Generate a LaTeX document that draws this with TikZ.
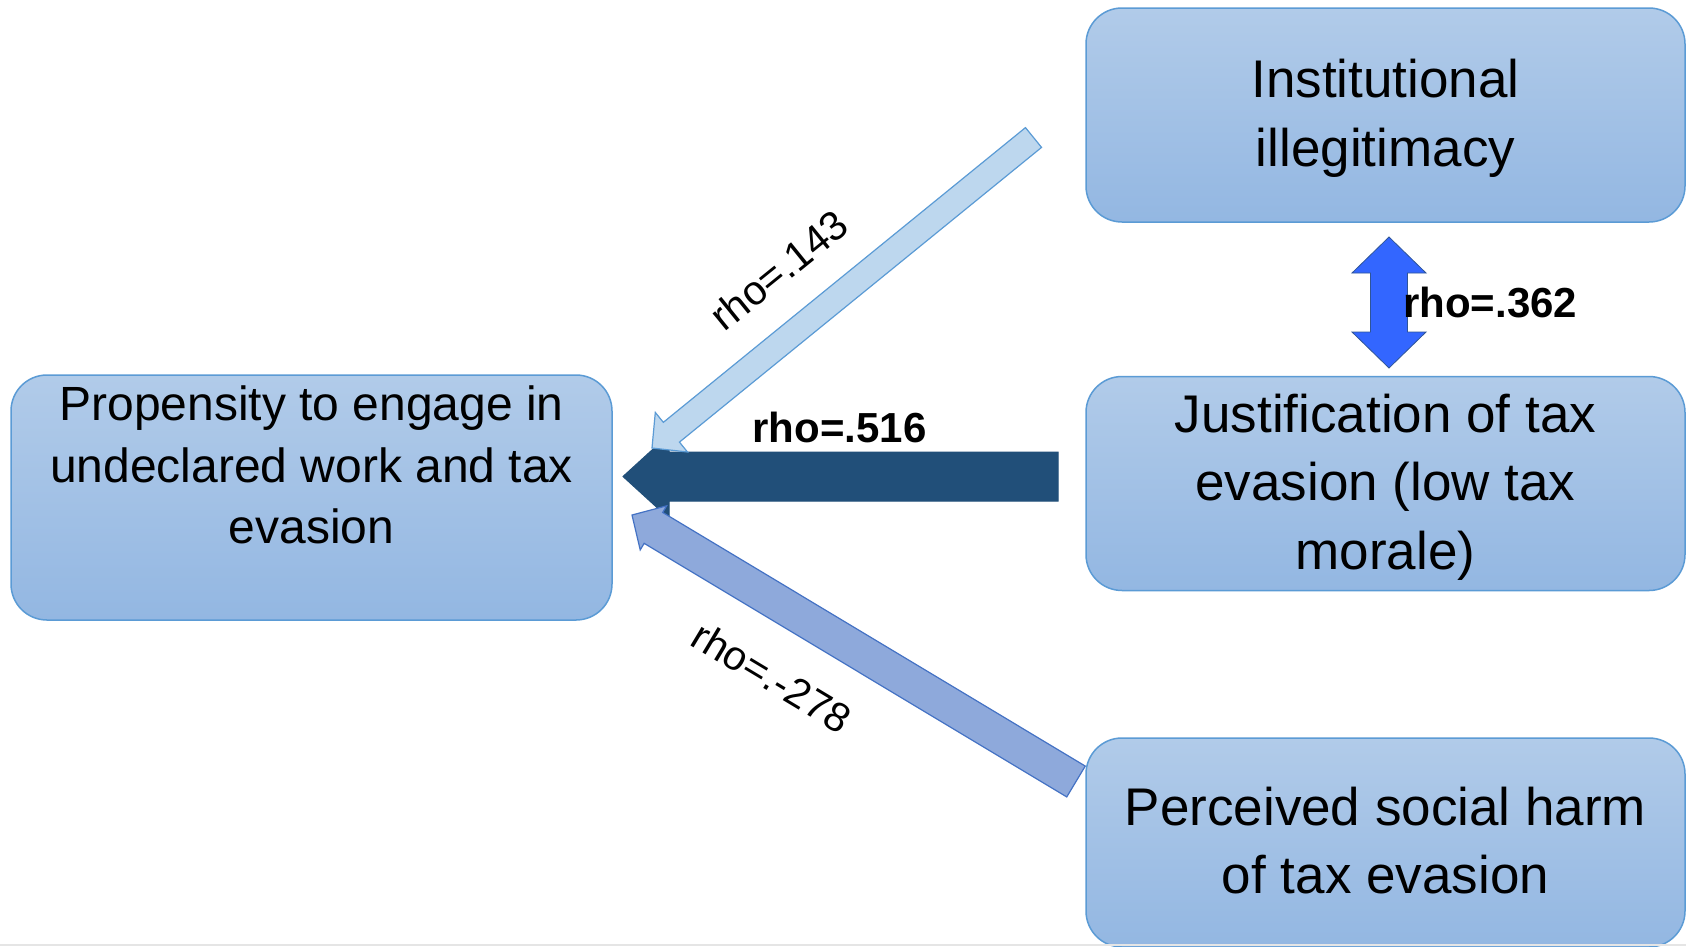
\documentclass[tikz,border=0pt]{standalone}
\usepackage{fontspec}
\setmainfont{Liberation Sans}
\usetikzlibrary{positioning,calc}

\definecolor{boxtop}{RGB}{177,203,233}
\definecolor{boxbottom}{RGB}{147,183,226}
\definecolor{boxline}{RGB}{91,155,213}
\definecolor{paleblue}{RGB}{189,215,238}
\definecolor{navyblue}{RGB}{33,79,121}
\definecolor{midblue}{RGB}{142,169,219}
\definecolor{midline}{RGB}{68,114,196}
\definecolor{brightblue}{RGB}{51,102,255}
\definecolor{brightline}{RGB}{47,85,151}

% block arrow: style, tail, tip, shaft half width, head half width, head length
\newcommand{\blockarrow}[6]{%
  \coordinate (#2-base) at ($(#3)!#6!(#2)$);
  \draw[#1] ($(#2)!#4!90:(#3)$) -- ($(#2-base)!#4!-90:(#2)$) -- ($(#2-base)!#5!-90:(#2)$)
    -- (#3) -- ($(#2-base)!#5!90:(#2)$) -- ($(#2-base)!#4!90:(#2)$) -- ($(#2)!#4!-90:(#3)$) -- cycle;}

% double block arrow: style, end a, end b, shaft half width, head half width, head length
\newcommand{\doubleblockarrow}[6]{%
  \coordinate (#2-base) at ($(#2)!#6!(#3)$);
  \coordinate (#3-base) at ($(#3)!#6!(#2)$);
  \draw[#1] (#2) -- ($(#2-base)!#5!90:(#3)$) -- ($(#2-base)!#4!90:(#3)$) -- ($(#3-base)!#4!-90:(#2)$)
    -- ($(#3-base)!#5!-90:(#2)$) -- (#3) -- ($(#3-base)!#5!90:(#2)$) -- ($(#3-base)!#4!90:(#2)$)
    -- ($(#2-base)!#4!-90:(#3)$) -- ($(#2-base)!#5!-90:(#3)$) -- cycle;}

\begin{document}
\begin{tikzpicture}[x=1pt, y=-1pt,
factorbox/.style={rectangle, rounded corners=36pt, draw=boxline, line width=1.5pt, top color=boxtop, bottom color=boxbottom, inner sep=0pt, align=center, text depth=4pt, minimum width=599pt, font=\fontsize{53}{68.5}\selectfont},
rholabel/.style={inner sep=0pt, font=\fontsize{41}{49}\selectfont},
rhobold/.style={inner sep=0pt, font=\fontsize{42}{50}\selectfont\bfseries},
]
\useasboundingbox (0,0) rectangle (1686,946);
\fill[white] (0,0) rectangle (1686,946);

%Nodes
\node[factorbox, minimum height=214pt]  (inst)                          at (1385.5,115) {Institutional\\illegitimacy};
\node[factorbox, minimum height=214pt]  (just)  [below=153pt of inst]   {Justification of tax\\evasion (low tax\\morale)};
\node[factorbox, minimum height=209pt]  (harm)  [below=146pt of just]   {Perceived social harm\\of tax evasion};
\node[factorbox, minimum width=601pt, minimum height=245pt] (prop)      at (311.5,497.5) {};
\node[align=center, inner sep=0pt, font=\fontsize{48}{61.5}\selectfont] (proptext) at (311.5,465) {Propensity to engage in\\undeclared work and tax\\evasion};

%Arrows
\coordinate (t516) at (1058,476.5);
\coordinate (p516) at (623,476.5);
\coordinate (t143) at (1033.5,137.5);
\coordinate (p143) at (652,448);
\coordinate (t278) at (1076,781.5);
\coordinate (p278) at (632,515);
\coordinate (up362) at (1389,237);
\coordinate (dn362) at (1389,368);

\blockarrow{fill=navyblue, draw=navyblue, line width=1pt}{t516}{p516}{24.5pt}{42pt}{46pt}
\blockarrow{fill=paleblue, draw=boxline, line width=1.2pt}{t143}{p143}{12.75pt}{25.5pt}{25pt}
\blockarrow{fill=midblue, draw=midline, line width=1.2pt}{t278}{p278}{18pt}{25.7pt}{25pt}
\doubleblockarrow{fill=brightblue, draw=brightline, line width=0.8pt}{up362}{dn362}{18.5pt}{37pt}{36pt}

%Labels
\node[rholabel, rotate=39]  (l143) at (779,270) {rho=.143};
\node[rhobold, anchor=base] (l516) at (839.5,442) {rho=.516};
\node[rhobold, anchor=base west] (l362) at (1403,317) {rho=.362};
\node[rholabel, rotate=-31] (l278) at (772,677) {rho=.-278};

\draw[black!10, line width=2pt] (0,945) -- (1686,945);
\end{tikzpicture}
\end{document}
